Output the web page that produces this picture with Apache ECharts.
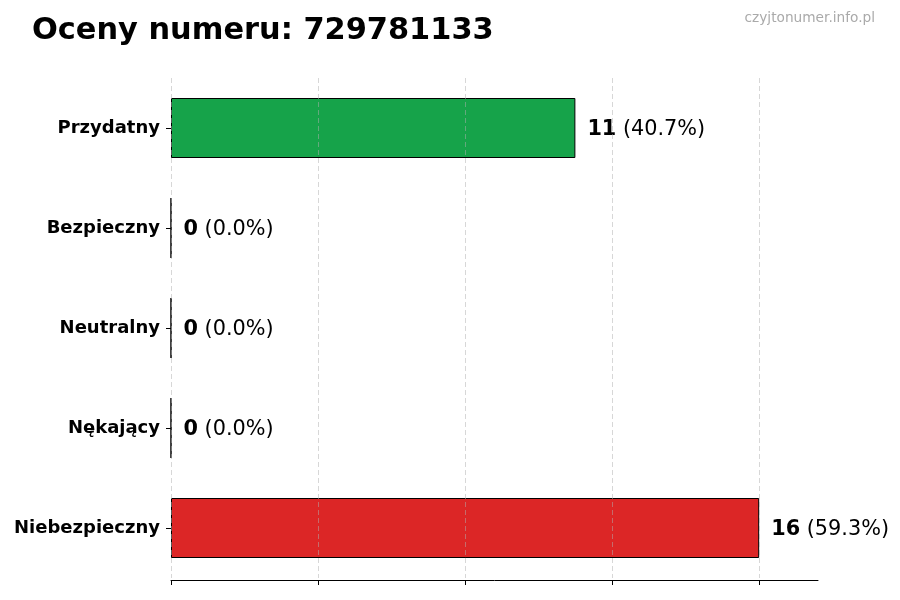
<!DOCTYPE html>
<html>
<head>
<meta charset="utf-8">
<script src="https://cdn.jsdelivr.net/npm/echarts@6/dist/echarts.min.js"></script>
<style>
  html, body { margin: 0; padding: 0; background: #fff; }
  #container { width: 900px; height: 600px; }
</style>
</head>
<body>
<div id="container"></div>
<script>
var categories = ['Przydatny', 'Bezpieczny', 'Neutralny', 'Nękający', 'Niebezpieczny'];
var counts = [11, 0, 0, 0, 16];
var barColors = ['#16a34a', '#6b7280', '#9ca3af', '#f59e0b', '#dc2626'];
var xTicks = [0, 4, 8, 12, 16];

var total = counts.reduce(function (a, b) { return a + b; }, 0);
var font = 'DejaVu Sans';

var dom = document.getElementById('container');
var myChart = echarts.init(dom);

var option = {
	backgroundColor: '#fff',
	animation: false,
	title: [{
		text: 'Oceny numeru: 729781133',
		left: 27,
		top: 11,
		textStyle: {
			fontFamily: font,
			fontSize: 30.4,
			fontWeight: 'bold',
			color: '#000'
		}
	}, {
		text: 'czyjtonumer.info.pl',
		right: 20,
		top: 6,
		textStyle: {
			fontFamily: font,
			fontSize: 13.7,
			fontWeight: 'normal',
			color: '#aaaaaa'
		}
	}],
	grid: {
		left: 171,
		right: 82,
		top: 78,
		bottom: 22
	},
	xAxis: {
		type: 'value',
		min: 0,
		max: 17.6,
		interval: 4,
		offset: 2,
		z: 3,
		axisLine: {
			show: true,
			lineStyle: { color: '#000', width: 1 }
		},
		axisTick: {
			show: true,
			length: 5,
			customValues: xTicks,
			lineStyle: { color: '#000' }
		},
		axisLabel: { show: false },
		splitLine: {
			show: true,
			lineStyle: {
				color: 'rgba(176,176,176,0.5)',
				type: [5, 3],
				width: 1
			}
		}
	},
	yAxis: {
		type: 'category',
		inverse: true,
		data: categories,
		axisLine: { show: false },
		axisTick: {
			show: true,
			alignWithLabel: true,
			length: 5,
			lineStyle: { color: '#000' }
		},
		axisLabel: {
			margin: 11,
			fontFamily: font,
			fontSize: 18,
			fontWeight: 'bold',
			color: '#000'
		},
		splitLine: { show: false }
	},
	series: [{
		type: 'bar',
		barWidth: '60%',
		data: counts.map(function (v, i) {
			return {
				value: v,
				itemStyle: { color: barColors[i] }
			};
		}),
		itemStyle: {
			borderColor: '#000',
			borderWidth: 1
		},
		label: {
			show: true,
			position: 'right',
			distance: 12,
			offset: [0, 2],
			formatter: function (p) {
				var pct = (p.value / total * 100).toFixed(1);
				return '{b|' + p.value + '}{n| (' + pct + '%)}';
			},
			rich: {
				b: {
					fontFamily: font,
					fontSize: 20.8,
					fontWeight: 'bold',
					color: '#000'
				},
				n: {
					fontFamily: font,
					fontSize: 20.8,
					color: '#000'
				}
			}
		}
	}]
};

myChart.setOption(option);
</script>
</body>
</html>
